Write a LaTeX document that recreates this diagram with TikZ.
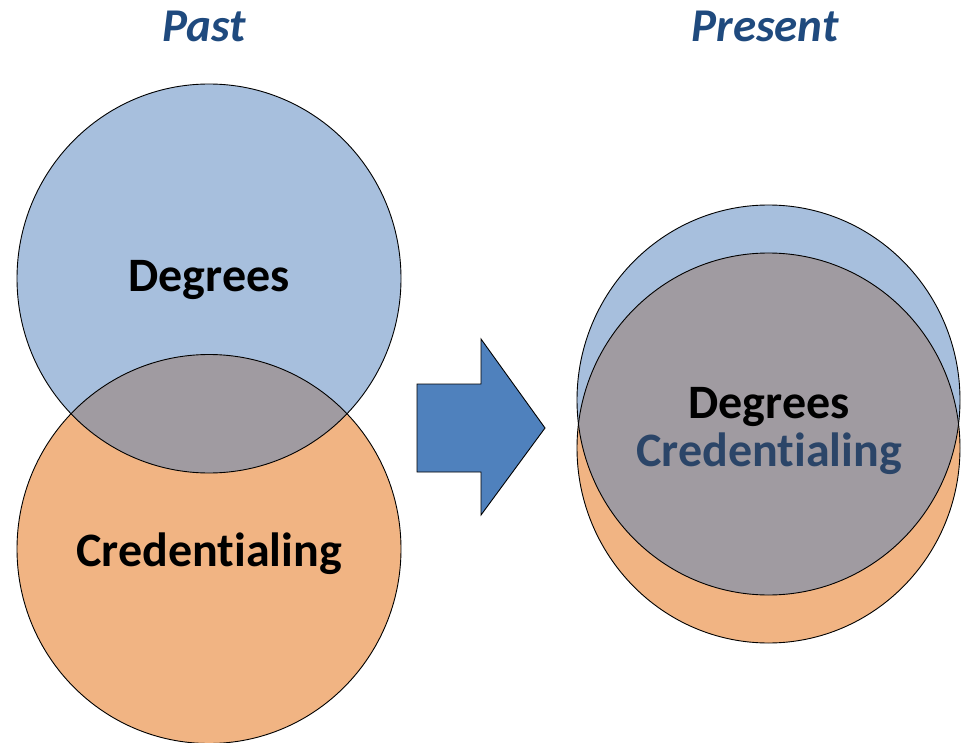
\documentclass[tikz,border=0pt]{standalone}
\usepackage{fontspec}
\setmainfont{Carlito}[Ligatures={NoCommon}]
\definecolor{cblue}{HTML}{A7BFDD}
\definecolor{corange}{HTML}{F1B483}
\definecolor{cgray}{HTML}{A09BA1}
\definecolor{carrow}{HTML}{4F81BD}
\definecolor{ctitle}{HTML}{1F4A7E}
\definecolor{ccred}{HTML}{2B4568}
\tikzset{
  outline/.style={draw=black, line width=0.9pt},
  title/.style={text=ctitle, font=\fontsize{47}{52}\selectfont\bfseries\itshape, anchor=base, inner sep=0pt},
  label/.style={text=black, font=\fontsize{48}{54}\selectfont\bfseries, anchor=base, inner sep=0pt},
}
\begin{document}
\begin{tikzpicture}[x=1pt,y=-1pt]
\useasboundingbox (0,0) rectangle (961,743);
% Past
\fill[cblue] (209,278.5) ellipse [x radius=192, y radius=194.5];
\fill[corange] (209,549) ellipse [x radius=192, y radius=194.5];
\begin{scope}
  \clip (209,278.5) ellipse [x radius=192, y radius=194.5];
  \fill[cgray] (209,549) ellipse [x radius=192, y radius=194.5];
\end{scope}
\draw[outline] (209,278.5) ellipse [x radius=192, y radius=194.5];
\draw[outline] (209,549) ellipse [x radius=192, y radius=194.5];
% Present
\fill[cblue] (768.5,400) ellipse [x radius=191.5, y radius=195];
\fill[corange] (768.5,448) ellipse [x radius=191.5, y radius=195];
\begin{scope}
  \clip (768.5,400) ellipse [x radius=191.5, y radius=195];
  \fill[cgray] (768.5,448) ellipse [x radius=191.5, y radius=195];
\end{scope}
\draw[outline] (768.5,400) ellipse [x radius=191.5, y radius=195];
\draw[outline] (768.5,448) ellipse [x radius=191.5, y radius=195];
% Arrow
\draw[fill=carrow, draw=black, line width=0.9pt, line join=miter]
  (417,384) -- (481,384) -- (481,339) -- (545,428) -- (481,515) -- (481,472) -- (417,472) -- cycle;
% Texts
\node[title] (tpast) at (204,42) {Past};
\node[title] (tpresent) at (765,42) {Present};
\node[label] (deg1) at (209,292) {Degrees};
\node[label] (cred1) at (209,566) {Credentialing};
\node[label] (deg2) at (769,418) {Degrees};
\node[label, text=ccred] (cred2) at (769,466) {Credentialing};
\end{tikzpicture}
\end{document}
